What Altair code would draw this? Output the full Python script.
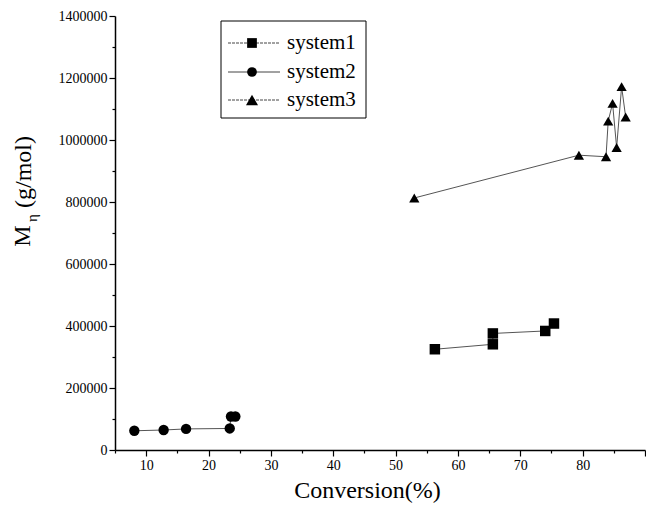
import altair as alt
import pandas as pd

# Series data: monomer conversion (%) vs. viscosity-average molecular weight (g/mol)
series_names = ["system1", "system2", "system3"]
series_shapes = ["square", "circle", "triangle-up"]

s1_conv = [56.3, 65.6, 65.6, 74.0, 75.4]
s1_mw = [325000, 341000, 376000, 384000, 408000]

s2_conv = [8.1, 12.8, 16.4, 23.4, 23.6, 24.3]
s2_mw = [62000, 64500, 68000, 69500, 108000, 108000]

s3_conv = [53.0, 79.4, 83.75, 84.1, 84.8, 85.45, 86.25, 86.9]
s3_mw = [813000, 951000, 946000, 1061000, 1118000, 976000, 1172000, 1074000]

x_ticks = list(range(5, 91, 5))
y_ticks = list(range(0, 1400001, 100000))

rows = []
for name, xs, ys in zip(series_names, [s1_conv, s2_conv, s3_conv], [s1_mw, s2_mw, s3_mw]):
    for i, (xv, yv) in enumerate(zip(xs, ys)):
        rows.append({"series": name, "conv": xv, "mw": yv, "order": i})
df = pd.DataFrame(rows)

SERIF = "Liberation Serif"
W, H = 530, 434

x_enc = alt.X(
    "conv:Q",
    scale=alt.Scale(domain=[5, 90], nice=False, zero=False),
    axis=alt.Axis(
        values=x_ticks,
        labelExpr="datum.value % 10 == 0 && datum.value < 90 ? datum.label : ''",
        tickSize={"condition": {"test": "datum.value % 10 == 0", "value": 6}, "value": 3},
        title="Conversion(%)",
        titleFont=SERIF, titleFontSize=24, titleFontWeight="normal",
        titleColor="black", titleX=252, titleY=47, titleBaseline="alphabetic",
        labelFont=SERIF, labelFontSize=14, labelColor="black", labelPadding=2,
        domainColor="black", domainWidth=1.5, tickColor="black", tickWidth=1.2,
        grid=False,
    ),
)
y_enc = alt.Y(
    "mw:Q",
    scale=alt.Scale(domain=[0, 1400000], nice=False),
    axis=alt.Axis(
        values=y_ticks,
        labelExpr="datum.value % 200000 == 0 ? format(datum.value, 'd') : ''",
        tickSize={"condition": {"test": "datum.value % 200000 == 0", "value": 6}, "value": 3},
        title=None,
        labelFont=SERIF, labelFontSize=14, labelColor="black", labelPadding=2,
        domainColor="black", domainWidth=1.5, tickColor="black", tickWidth=1.2,
        grid=False,
    ),
)

base = alt.Chart(df).encode(x=x_enc, y=y_enc)

lines = base.mark_line(color="#555555", strokeWidth=1).encode(
    detail="series:N", order="order:Q"
)
points = base.mark_point(filled=True, color="black", opacity=1).encode(
    shape=alt.Shape("series:N", scale=alt.Scale(domain=series_names, range=series_shapes), legend=None),
    size=alt.Size("series:N", scale=alt.Scale(domain=series_names, range=[110, 105, 165]), legend=None),
)

# Y-axis title with subscript eta, built from rotated text pieces
ytitle_parts = [
    ("M", 24, 23, 236),
    ("\u03b7", 15, 32, 218),
    ("(g/mol)", 24, 24, 172),
]
ytitle_layers = []
for txt, fs, px, py in ytitle_parts:
    ytitle_layers.append(
        alt.Chart(pd.DataFrame({"t": [txt]})).mark_text(
            font=SERIF, fontSize=fs, angle=270, align="center", baseline="middle", color="black"
        ).encode(text="t:N", x=alt.value(px - 115), y=alt.value(py - 16))
    )

# Legend box
legend_box = alt.Chart(pd.DataFrame({"a": [0]})).mark_rect(
    fill="white", stroke="black", strokeWidth=1
).encode(
    x=alt.value(221 - 115), x2=alt.value(366 - 115),
    y=alt.value(21 - 16), y2=alt.value(118 - 16),
)
legend_layers = [legend_box]
legend_rows_y = [43, 72, 100]
legend_dash = [[3, 1], [1, 0], [3, 1]]
legend_sizes = [95, 95, 145]
for name, shp, ry, dash, sz in zip(series_names, series_shapes, legend_rows_y, legend_dash, legend_sizes):
    one = pd.DataFrame({"series": [name]})
    legend_layers.append(
        alt.Chart(one).mark_rule(color="#444444", strokeWidth=1, strokeDash=dash).encode(
            x=alt.value(228 - 115), x2=alt.value(280 - 115), y=alt.value(ry - 16)
        )
    )
    legend_layers.append(
        alt.Chart(one).mark_point(filled=True, color="black", opacity=1, shape=shp, size=sz).encode(
            x=alt.value(252 - 115), y=alt.value(ry - 16)
        )
    )
    legend_layers.append(
        alt.Chart(one).mark_text(
            font=SERIF, fontSize=21, align="left", baseline="middle", color="black"
        ).encode(text="series:N", x=alt.value(287 - 115), y=alt.value(ry - 16))
    )

chart = alt.layer(lines, points, *ytitle_layers, *legend_layers).properties(
    width=W,
    height=H,
    padding={"left": 115, "top": 16, "right": 1, "bottom": 55},
    autosize=alt.AutoSizeParams(type="none"),
    background="white",
).configure_view(stroke=None)

chart.save("out.html", embed_options={"renderer": "svg", "actions": False})
